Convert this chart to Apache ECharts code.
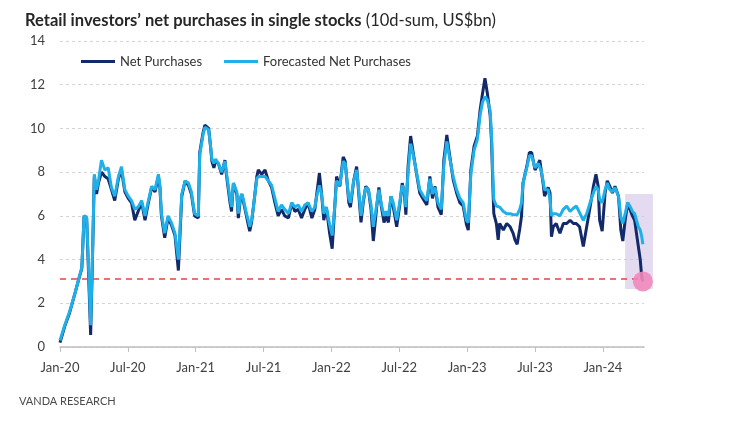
<!DOCTYPE html>
<html><head><meta charset="utf-8">
<script src="https://cdn.jsdelivr.net/npm/echarts@6/dist/echarts.min.js"></script>
<style>html,body{margin:0;padding:0;background:#fff}#c{width:734px;height:421px}</style>
</head><body><div id="c"></div>
<script>
const dates = [
'2020-01-01','2020-01-14','2020-01-27','2020-02-11','2020-02-20','2020-02-28','2020-03-05','2020-03-12','2020-03-17','2020-03-23',
'2020-03-28','2020-04-02','2020-04-08','2020-04-13','2020-04-21','2020-04-30','2020-05-09','2020-05-18','2020-05-27','2020-06-06',
'2020-06-14','2020-06-23','2020-07-02','2020-07-11','2020-07-20','2020-07-29','2020-08-08','2020-08-17','2020-08-25','2020-09-04',
'2020-09-13','2020-09-22','2020-09-26','2020-09-30','2020-10-09','2020-10-18','2020-10-27','2020-11-06','2020-11-15','2020-11-24',
'2020-12-03','2020-12-12','2020-12-20','2020-12-29','2021-01-08','2021-01-12','2021-01-21','2021-01-26','2021-02-05','2021-02-09',
'2021-02-13','2021-02-18','2021-02-22','2021-03-01','2021-03-10','2021-03-19','2021-03-23','2021-04-02','2021-04-06','2021-04-11',
'2021-04-20','2021-04-24','2021-04-29','2021-05-03','2021-05-07','2021-05-16','2021-05-21','2021-05-25','2021-05-30','2021-06-04',
'2021-06-08','2021-06-13','2021-06-17','2021-06-26','2021-07-05','2021-07-14','2021-07-23','2021-08-01','2021-08-10','2021-08-19',
'2021-08-28','2021-09-07','2021-09-16','2021-09-24','2021-10-03','2021-10-12','2021-10-21','2021-10-30','2021-11-09','2021-11-17',
'2021-11-22','2021-11-29','2021-12-05','2021-12-11','2021-12-18','2021-12-27','2022-01-03','2022-01-10','2022-01-15','2022-01-24',
'2022-02-02','2022-02-07','2022-02-16','2022-02-20','2022-02-28','2022-03-08','2022-03-12','2022-03-20','2022-03-26','2022-04-02',
'2022-04-09','2022-04-16','2022-04-22','2022-05-01','2022-05-07','2022-05-14','2022-05-21','2022-05-27','2022-06-02','2022-06-09',
'2022-06-15','2022-06-24','2022-07-03','2022-07-09','2022-07-15','2022-07-19','2022-07-25','2022-08-01','2022-08-08','2022-08-17',
'2022-08-26','2022-09-05','2022-09-14','2022-09-22','2022-09-29','2022-10-06','2022-10-14','2022-10-23','2022-10-30','2022-11-07',
'2022-11-15','2022-11-24','2022-12-03','2022-12-12','2022-12-21','2022-12-30','2023-01-04','2023-01-11','2023-01-20','2023-01-29',
'2023-02-05','2023-02-11','2023-02-17','2023-02-23','2023-03-02','2023-03-06','2023-03-10','2023-03-12','2023-03-19','2023-03-24',
'2023-03-28','2023-04-07','2023-04-16','2023-04-25','2023-05-03','2023-05-08','2023-05-14','2023-05-21','2023-05-26','2023-05-30',
'2023-06-09','2023-06-16','2023-06-22','2023-07-01','2023-07-10','2023-07-14','2023-07-19','2023-07-23','2023-07-27','2023-08-06',
'2023-08-11','2023-08-15','2023-08-20','2023-08-28','2023-09-07','2023-09-16','2023-09-25','2023-10-04','2023-10-13','2023-10-21',
'2023-10-30','2023-11-09','2023-11-18','2023-11-27','2023-12-06','2023-12-13','2023-12-19','2023-12-23','2023-12-30','2024-01-07',
'2024-01-13','2024-01-20','2024-01-27','2024-02-03','2024-02-12','2024-02-18','2024-02-23','2024-02-29','2024-03-07','2024-03-13',
'2024-03-20','2024-03-26','2024-03-31','2024-04-05','2024-04-10','2024-04-14','2024-04-17'
];
const netPurchases = [
0.2,0.95,1.55,2.5,3.1,3.6,6.0,5.9,3.5,0.55,
4.0,7.8,7.0,7.5,8.0,7.8,7.7,7.2,6.7,7.7,
8.1,7.1,6.8,6.6,5.8,6.2,6.6,5.8,6.5,7.3,
7.1,7.8,7.3,6.0,5.0,5.9,5.6,5.1,3.5,6.9,
7.6,7.4,7.0,6.0,5.9,8.9,9.8,10.15,10.0,9.3,
8.5,8.2,8.5,8.4,7.9,8.55,7.9,6.6,6.2,7.5,
7.0,5.9,6.7,7.0,6.7,6.0,5.6,5.3,5.7,6.4,
7.0,7.8,8.1,7.9,8.1,7.6,7.3,6.6,6.0,6.3,
6.0,5.9,6.6,6.2,6.3,5.9,6.3,6.6,5.9,6.3,
7.0,7.95,7.0,5.8,6.4,5.2,4.5,6.4,7.8,7.35,
8.7,8.5,6.6,6.4,7.6,8.25,7.4,5.7,6.6,7.35,
7.2,6.3,4.85,6.4,7.3,6.4,5.7,6.0,5.7,6.9,
6.4,5.5,6.6,7.5,7.0,6.05,8.25,9.65,8.9,7.95,
7.05,6.75,6.5,7.8,6.8,7.35,6.4,6.05,8.55,9.7,
8.7,7.65,7.05,6.6,6.45,5.6,5.35,8.1,9.2,9.65,
10.85,11.6,12.3,11.6,10.6,9.3,7.05,6.1,5.65,4.9,
5.65,5.35,5.65,5.5,5.2,4.9,4.7,5.4,6.0,7.5,
8.25,8.9,8.9,8.1,8.4,8.55,7.95,7.5,6.9,7.3,
7.05,5.05,5.5,5.65,5.2,5.65,5.65,5.8,5.65,5.65,
5.5,4.6,5.5,6.4,7.35,7.9,7.35,5.8,5.3,7.05,
7.6,7.35,7.05,7.35,6.9,5.35,4.85,5.8,6.6,6.3,
6.0,5.8,5.2,4.6,4.0,3.2,3.0
];
const forecastedNetPurchases = [
0.3,1.0,1.6,2.5,3.1,3.65,6.0,5.95,3.8,1.0,
4.2,7.9,7.2,7.6,8.55,8.1,8.2,7.3,6.9,7.8,
8.25,7.2,6.9,6.7,6.3,6.4,6.7,6.0,6.6,7.35,
7.2,7.9,7.4,6.1,5.2,6.0,5.7,5.2,4.0,7.0,
7.6,7.5,7.1,6.1,6.0,8.8,9.7,10.05,9.95,9.3,
8.6,8.4,8.6,8.4,8.0,8.5,8.0,6.8,6.4,7.5,
7.1,6.1,6.8,7.0,6.8,6.1,5.8,5.5,5.8,6.4,
7.0,7.7,7.8,7.8,7.8,7.6,7.4,6.8,6.2,6.5,
6.3,6.1,6.6,6.4,6.5,6.2,6.5,6.6,6.2,6.4,
6.9,7.4,7.0,6.1,6.4,5.6,5.1,6.4,7.6,7.4,
8.5,8.4,6.8,6.6,7.6,8.1,7.5,6.0,6.7,7.3,
7.2,6.5,5.5,6.5,7.2,6.5,6.0,6.2,6.0,6.9,
6.6,5.8,6.7,7.4,7.1,6.4,8.0,9.3,8.8,8.0,
7.2,6.9,6.7,7.7,7.0,7.3,6.6,6.3,8.3,9.4,
8.6,7.8,7.2,6.8,6.6,5.8,5.7,7.9,9.0,9.5,
10.6,11.2,11.45,11.3,10.8,9.6,7.5,6.75,6.45,6.4,
6.4,6.2,6.1,6.1,6.05,6.0,6.05,6.3,6.6,7.5,
8.2,8.75,8.75,8.2,8.4,8.4,8.0,7.6,7.2,7.2,
6.75,6.0,6.1,6.1,6.0,6.3,6.45,6.2,6.35,6.45,
6.15,5.8,6.1,6.6,7.05,7.35,7.2,6.75,6.6,7.2,
7.5,7.2,7.1,7.3,6.9,5.95,5.65,6.1,6.6,6.45,
6.2,6.1,5.8,5.5,5.35,5.05,4.7
];
const seriesNames = ['Net Purchases', 'Forecasted Net Purchases'];
const xTickLabels = ['Jan-20','Jul-20','Jan-21','Jul-21','Jan-22','Jul-22','Jan-23','Jul-23','Jan-24'];
const xTickDates = ['2020-01-01','2020-07-01','2021-01-01','2021-07-01','2022-01-01','2022-07-01','2023-01-01','2023-07-01','2024-01-01'];
const yTicks = [0,2,4,6,8,10,12,14];
const axisStart = '2020-01-01';
const axisEnd = '2024-04-20';
const thresholdValue = 3.1;
const highlightFrom = ['2024-02-29', 7.0];
const highlightTo = ['2024-05-14', 2.65];

function toMonths(s) {
  const [y, m, d] = s.split('-').map(Number);
  const dim = new Date(Date.UTC(y, m, 0)).getUTCDate();
  return (y - 2020) * 12 + (m - 1) + (d - 1) / dim;
}
const xs = dates.map(toMonths);
const tickPos = xTickDates.map(toMonths);
const darkData = xs.map((x, i) => [x, netPurchases[i]]);
const lightData = xs.map((x, i) => [x, forecastedNetPurchases[i]]);
const lastIdx = dates.length - 1;

const FONT = 'Lato';
const chart = echarts.init(document.getElementById('c'), null, {renderer: 'canvas'});
const option = {
  backgroundColor: '#ffffff',
  animation: false,
  textStyle: {fontFamily: FONT},
  title: [{
    left: 20, top: 7,
    text: '{b|Retail investors\u2019 net purchases in single stocks} {n|(10d-sum, US$bn)}',
    textStyle: {
      rich: {
        b: {fontFamily: FONT, fontWeight: 'bold', fontSize: 16.5, color: '#262626'},
        n: {fontFamily: FONT, fontWeight: 'normal', fontSize: 16.5, color: '#262626'}
      }
    }
  }, {
    left: 14, top: 391,
    text: 'VANDA RESEARCH',
    textStyle: {fontFamily: FONT, fontWeight: 'normal', fontSize: 11, color: '#4a4a4a'}
  }],
  legend: {
    left: 76, top: 50,
    icon: 'rect', itemWidth: 34, itemHeight: 3, itemGap: 22,
    textStyle: {fontFamily: FONT, fontSize: 13, color: '#333333'},
    data: seriesNames
  },
  grid: {left: 60, right: 90, top: 41, bottom: 74, containLabel: false},
  xAxis: {
    type: 'value',
    min: 0, max: toMonths(axisEnd),
    axisLine: {show: true, lineStyle: {color: '#bfbfbf', width: 1.5}},
    axisTick: {show: true, length: 5, lineStyle: {color: '#bfbfbf'}, customValues: tickPos},
    axisLabel: {
      customValues: tickPos,
      margin: 14, fontFamily: FONT, fontSize: 13, color: '#404040',
      formatter: v => { const i = tickPos.findIndex(t => Math.abs(t - v) < 1e-6); return i >= 0 ? xTickLabels[i] : ''; }
    },
    splitLine: {show: false}
  },
  yAxis: {
    type: 'value', min: 0, max: 14, interval: 2,
    axisLine: {show: false}, axisTick: {show: false},
    axisLabel: {margin: 15, fontFamily: FONT, fontSize: 13, color: '#404040',
      formatter: v => yTicks.includes(v) ? String(v) : ''},
    splitLine: {show: true, lineStyle: {color: '#d4d4d4', type: [3, 3], width: 1}}
  },
  series: [{
    name: seriesNames[0], type: 'line', data: darkData, showSymbol: false,
    lineStyle: {color: '#12296a', width: 3}, itemStyle: {color: '#12296a'},
    z: 3,
    markLine: {
      silent: true, symbol: 'none', label: {show: false},
      lineStyle: {color: '#e0473f', type: [6, 5], width: 1.6},
      data: [{yAxis: thresholdValue}]
    },
    markPoint: {
      silent: true, symbol: 'circle', symbolSize: 20, label: {show: false},
      itemStyle: {color: '#ef88bb', opacity: 0.9},
      data: [{coord: [xs[lastIdx], netPurchases[lastIdx]]}]
    }
  }, {
    name: seriesNames[1], type: 'line', data: lightData, showSymbol: false,
    lineStyle: {color: '#1fb0ea', width: 3}, itemStyle: {color: '#1fb0ea'},
    z: 4
  }]
};
chart.setOption(option);
const p1 = chart.convertToPixel({gridIndex: 0}, [toMonths(highlightFrom[0]), highlightFrom[1]]);
const p2 = chart.convertToPixel({gridIndex: 0}, [toMonths(highlightTo[0]), highlightTo[1]]);
chart.setOption({
  graphic: [{
    type: 'rect', z: 1, silent: true,
    shape: {x: Math.min(p1[0], p2[0]), y: Math.min(p1[1], p2[1]), width: Math.abs(p2[0] - p1[0]), height: Math.abs(p2[1] - p1[1])},
    style: {fill: 'rgba(205,190,228,0.55)'}
  }]
});
</script></body></html>
